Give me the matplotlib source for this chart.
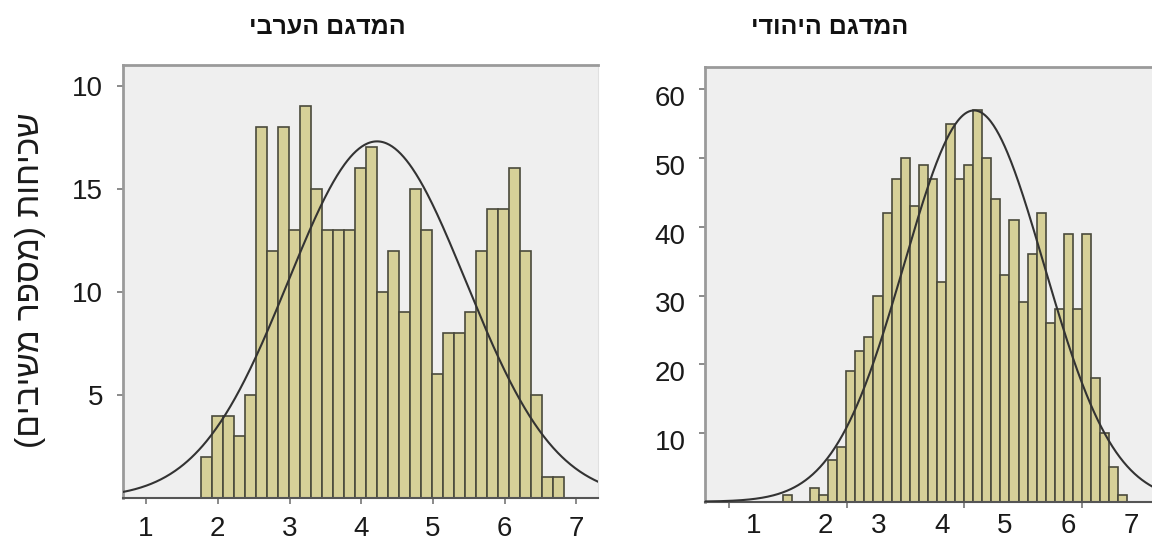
import matplotlib
matplotlib.use("Agg")
import matplotlib.pyplot as plt
import matplotlib.transforms as mtransforms
import numpy as np

plt.rcParams['font.family'] = ['Liberation Sans', 'DejaVu Sans']

# bar heights (respondents per bin)
arab_counts = [2, 4, 4, 3, 5, 18, 12, 18, 13, 19, 15, 13, 13, 13, 16, 17, 10,
               12, 9, 15, 13, 6, 8, 8, 9, 12, 14, 14, 16, 12, 5, 1, 1]
jew_counts = [1, 0, 0, 2, 1, 6, 8, 19, 22, 24, 30, 42, 47, 50, 43, 49, 47, 32,
              55, 47, 49, 57, 50, 44, 33, 41, 29, 36, 42, 26, 28, 39, 28, 39,
              18, 10, 5, 1]

# histogram bins
arab_bin_start, arab_bin_width = 1.763, 0.1536
jew_bin_start, jew_bin_width = 0.909, 0.1544

# fitted normal curve
arab_mean, arab_sd = 4.22, 1.24
jew_mean, jew_sd = 4.165, 1.19

arab_xticks = [1, 2, 3, 4, 5, 6, 7]
arab_xticklabels = ["1", "2", "3", "4", "5", "6", "7"]
arab_yticks = [5, 10, 15, 20]
arab_yticklabels = ["5", "10", "15", "10"]

jew_xticks = [0, 2, 4, 6]
jew_xlabel_pos = [0.41, 1.63, 2.55, 3.62, 4.69, 5.77, 6.85]
jew_xticklabels = ["1", "2", "3", "4", "5", "6", "7"]
jew_yticks = [10, 20, 30, 40, 50, 60]
jew_yticklabels = ["10", "20", "30", "40", "50", "60"]

arab_title = "המדגם הערבי"
jew_title = "המדגם היהודי"
y_title = "שכיחות (מספר משיבים)"

BAR = "#d6d098"
EDGE = "#4a4a3c"
PANEL_BG = "#efefef"


def visual(s):
    # no bidi in matplotlib: reverse for display and mirror the brackets
    return s[::-1].translate(str.maketrans("()", ")("))


def draw_panel(ax, counts, start, width, mean, sd, xlim, ylim):
    left_edges = start + width * np.arange(len(counts))
    ax.bar(left_edges, counts, width=width, align='edge',
           color=BAR, edgecolor=EDGE, linewidth=1.2, zorder=2)
    x = np.linspace(xlim[0], xlim[1], 500)
    n = sum(counts)
    y = n * width / (sd * np.sqrt(2 * np.pi)) * np.exp(-0.5 * ((x - mean) / sd) ** 2)
    ax.plot(x, y, color="#333333", lw=1.5, zorder=3)
    ax.set_xlim(*xlim)
    ax.set_ylim(*ylim)
    ax.set_facecolor(PANEL_BG)
    for side in ("left", "top"):
        ax.spines[side].set_color("#9a9a9a")
        ax.spines[side].set_linewidth(2)
    ax.spines["right"].set_color("#e0e0e0")
    ax.spines["bottom"].set_color("#555555")
    ax.spines["bottom"].set_linewidth(1.5)
    ax.tick_params(axis='both', which='both', direction='out', colors="#777777",
                   labelcolor="#1a1a1a", labelsize=20, length=4, width=1.2)
    ax.tick_params(axis='x', pad=9)
    ax.tick_params(axis='y', pad=10)


fig = plt.figure(figsize=(11.52, 5.41), dpi=100)
W, H = 1152, 541

ax1 = fig.add_axes([122.7 / W, (H - 498) / H, (598 - 122.7) / W, (498 - 65) / H])
draw_panel(ax1, arab_counts, arab_bin_start, arab_bin_width,
           arab_mean, arab_sd, (0.675, 7.30), (0, 21.0))
ax1.set_xticks(arab_xticks)
ax1.set_xticklabels(arab_xticklabels)
ax1.set_yticks(arab_yticks)
ax1.set_yticklabels(arab_yticklabels)

ax2 = fig.add_axes([705 / W, (H - 501.7) / H, (1165 - 705) / W, (501.7 - 66.7) / H])
draw_panel(ax2, jew_counts, jew_bin_start, jew_bin_width,
           jew_mean, jew_sd, (-0.414, 7.416), (0, 63.3))
ax2.spines["right"].set_visible(False)
ax2.set_xticks(jew_xticks)
ax2.set_xticklabels([])
# the number labels in the source sit off the tick marks
ax2.set_xticks(jew_xlabel_pos, minor=True)
ax2.set_xticklabels(jew_xticklabels, minor=True)
ax2.tick_params(axis='x', which='minor', length=0, pad=8)
ax2.set_yticks(jew_yticks)
ax2.set_yticklabels(jew_yticklabels)
# y numbers sit a little below their ticks in the source
shift = mtransforms.ScaledTranslation(0, -5 / 72, fig.dpi_scale_trans)
for lab in ax2.get_yticklabels():
    lab.set_transform(lab.get_transform() + shift)

fig.text(327.5 / W, 1 - 27 / H, visual(arab_title), ha='center', va='center',
         fontsize=18, fontweight='bold', color="#111111")
fig.text(830 / W, 1 - 27 / H, visual(jew_title), ha='center', va='center',
         fontsize=18, fontweight='bold', color="#111111")
fig.text(31 / W, 1 - 280 / H, visual(y_title), ha='center', va='center',
         rotation=90, fontsize=24, color="#1a1a1a")

fig.savefig("out.png", dpi=100, facecolor="white")
